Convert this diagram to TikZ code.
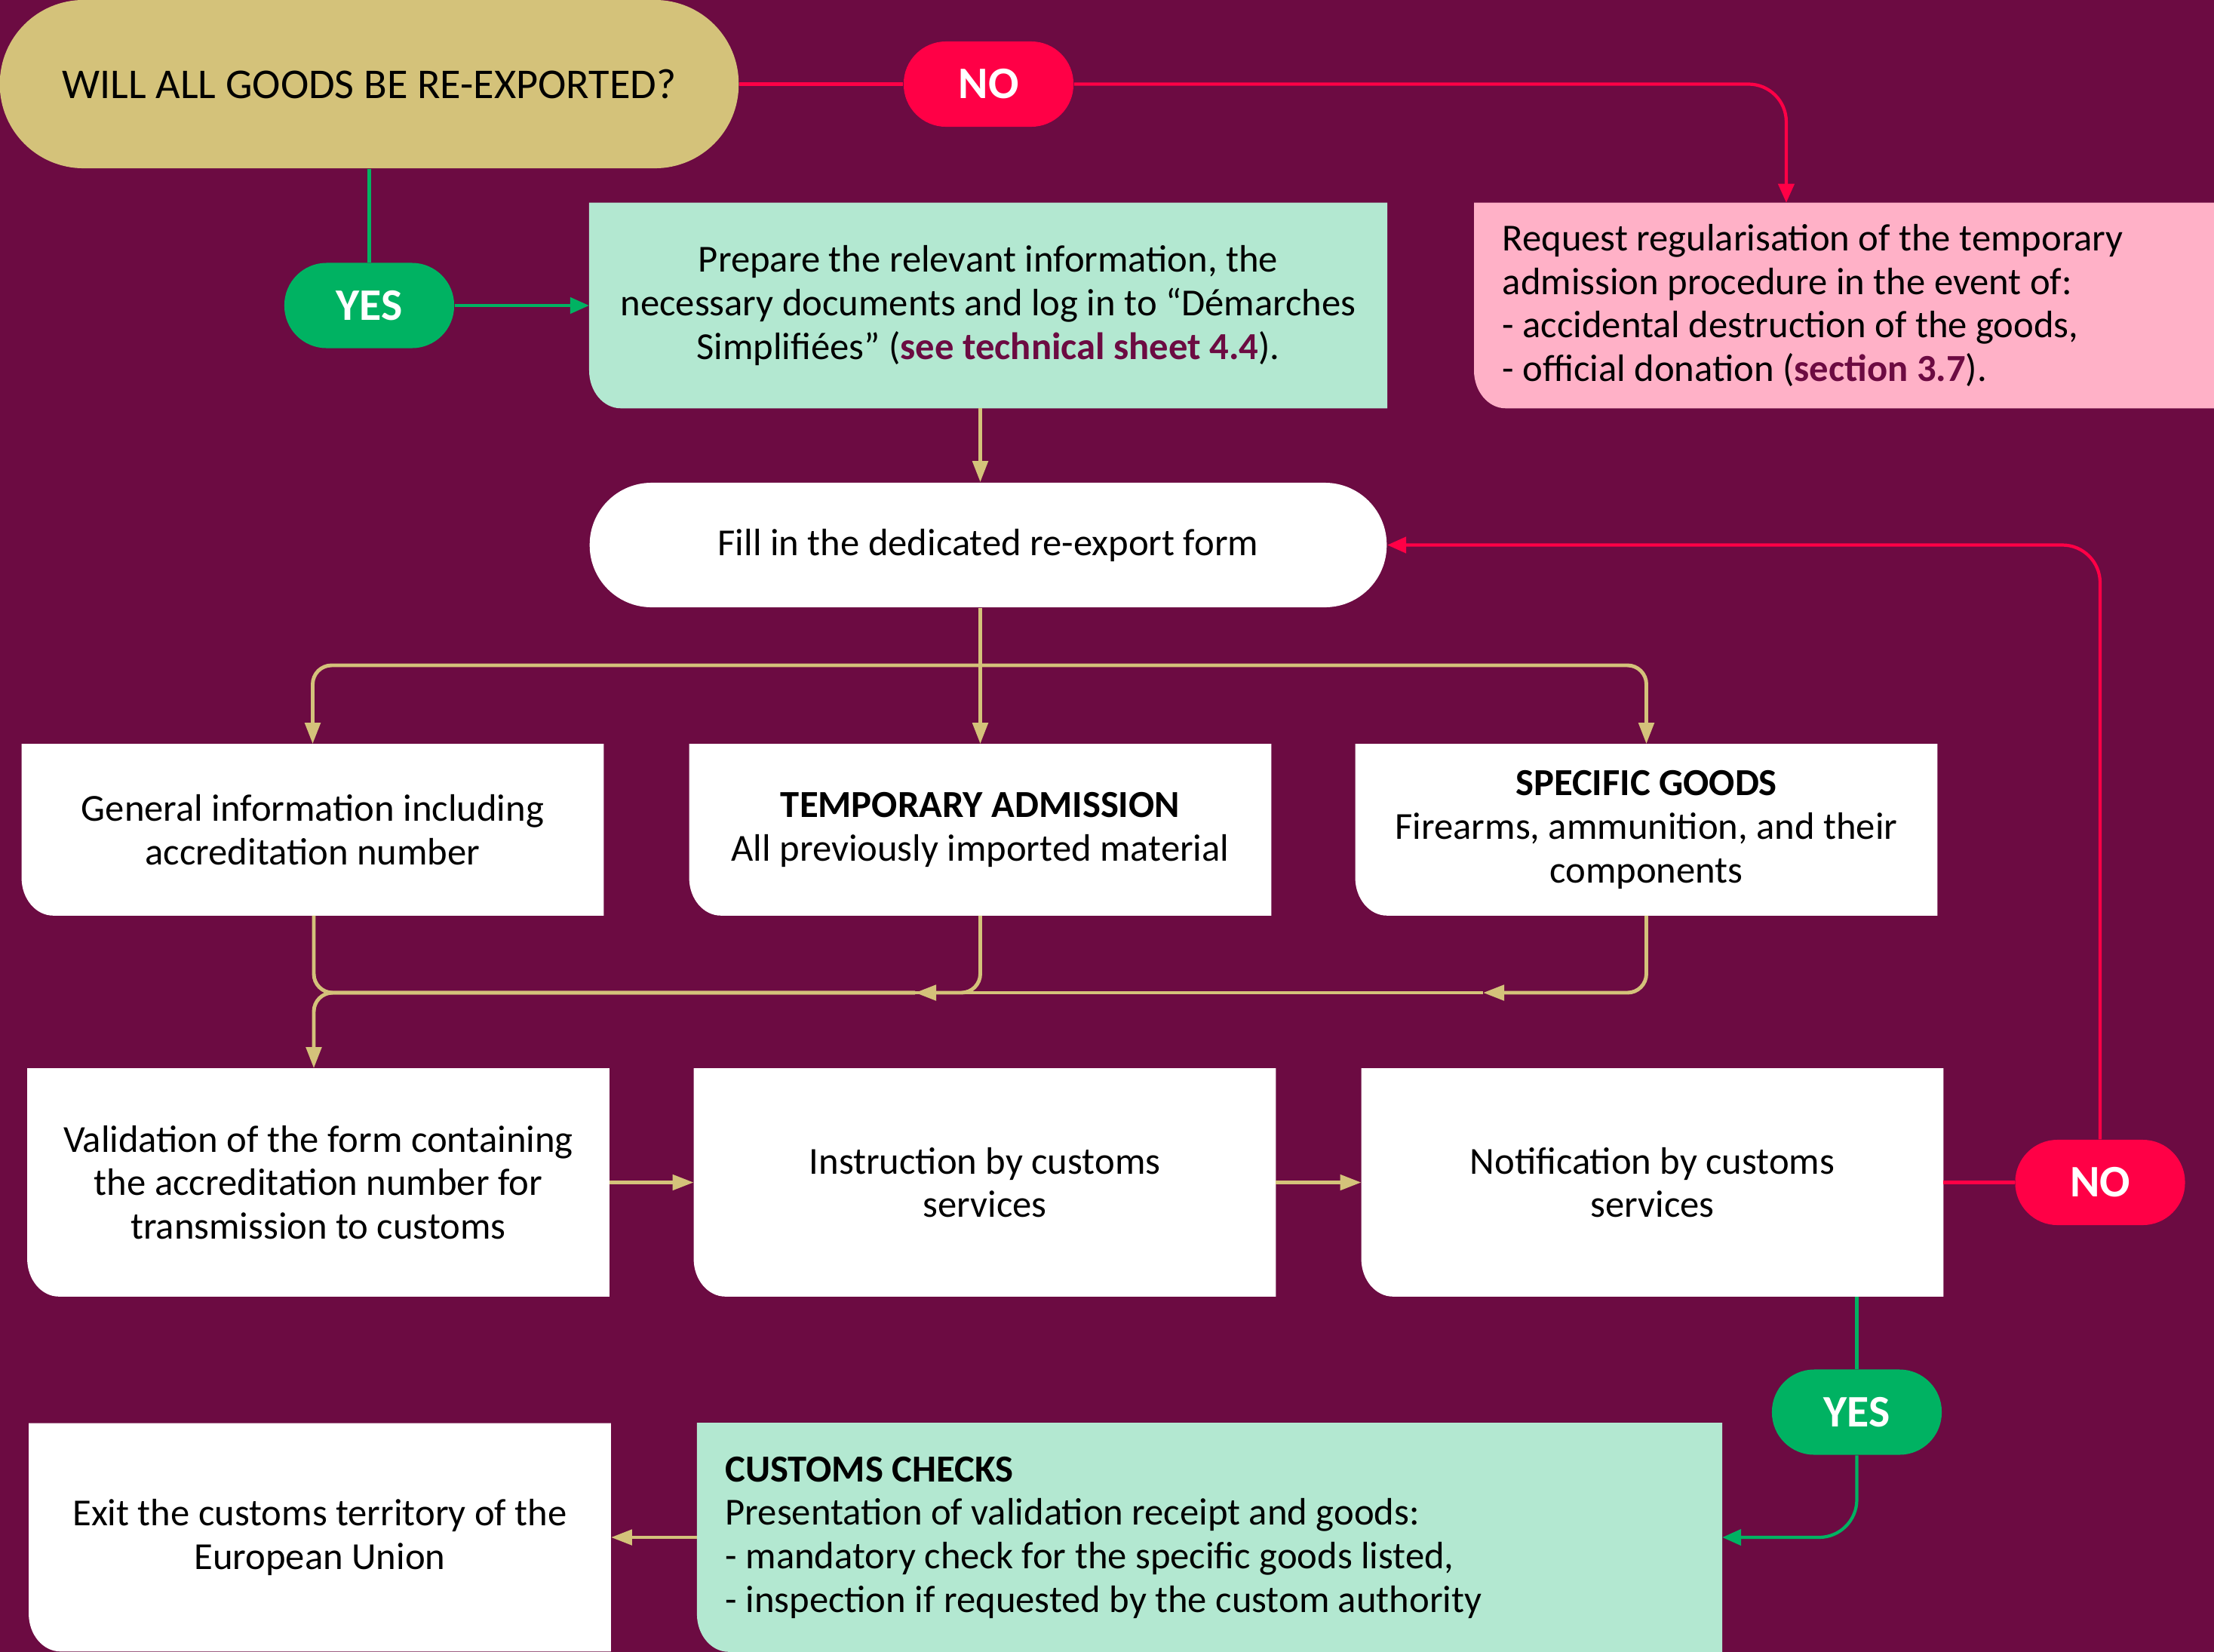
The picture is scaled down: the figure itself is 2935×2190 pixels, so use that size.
\documentclass[tikz,border=0pt]{standalone}
\usepackage{fontspec}
\setmainfont{Carlito}
\usetikzlibrary{arrows.meta,positioning,backgrounds}

\definecolor{wine}{RGB}{108,11,66}
\definecolor{sand}{RGB}{212,194,122}
\definecolor{alarm}{RGB}{255,0,70}
\definecolor{leaf}{RGB}{0,178,98}
\definecolor{mint}{RGB}{179,232,209}
\definecolor{blush}{RGB}{255,177,199}

\begin{document}
\begin{tikzpicture}[x=0.01cm, y=-0.01cm,
    every node/.style={font=\fontsize{14.4}{16.4}\selectfont, inner sep=0pt},
    card/.style={minimum width=7.7cm, minimum height=2.26cm, align=center},
    tallcard/.style={card, minimum height=3.01cm},
    leftcard/.style={align=flush left, inner xsep=0.37cm},
    pill/.style={rounded corners=0.56cm, minimum width=2.25cm, minimum height=1.13cm,
        text=white, font=\fontsize{17}{20}\selectfont\bfseries},
    yespill/.style={pill, fill=leaf},
    nopill/.style={pill, fill=alarm},
    wire/.style={draw=sand, line width=1.4pt, rounded corners=0.25cm},
    flow/.style={wire, -{Triangle[length=0.28cm, width=0.2cm]}},
    noline/.style={draw=alarm, line width=1.2pt, rounded corners=0.5cm},
    noflow/.style={noline, -{Triangle[length=0.25cm, width=0.21cm]}},
    yesline/.style={draw=leaf, line width=1.2pt, rounded corners=0.5cm},
    yesflow/.style={yesline, -{Triangle[length=0.25cm, width=0.21cm]}}]

\useasboundingbox (0,0) rectangle (2935,2190);

% question and first answers
\node[fill=sand, rounded corners=1.11cm, minimum width=9.79cm, minimum height=2.23cm,
    font=\fontsize{16}{19}\selectfont]
    (ask) at (489.5,111.5) {WILL ALL GOODS BE RE-EXPORTED?};
\node[nopill] (no1) at (1310.5,111.5) {NO};
\node[yespill] (yes1) at (489.5,405) {YES};
\node[card, minimum width=10.56cm, minimum height=2.71cm] (prep) at (1310,405)
    {Prepare the relevant information, the\\necessary documents and log in to “Démarches\\Simplifiées” ({\bfseries\color{wine}see technical sheet 4.4}).};
\node[leftcard, text width=9.05cm, minimum height=2.71cm] (req) at (2444.5,405)
    {Request regularisation of the temporary\\admission procedure in the event of:\\- accidental destruction of the goods,\\- official donation ({\bfseries\color{wine}section 3.7}).};
\node[fill=white, rounded corners=0.82cm, minimum width=10.56cm, minimum height=1.65cm]
    (form) at (1310,722.5) {Fill in the dedicated re-export form};

% form contents
\node[card] (gen) at (414.5,1100) {General information including\\accreditation number};
\node[card] (ta) at (1299.5,1100) {\textbf{TEMPORARY ADMISSION}\\All previously imported material};
\node[card] (sg) at (2182.5,1100) {\textbf{SPECIFIC GOODS}\\Firearms, ammunition, and their\\components};

% processing
\node[tallcard] (val) at (422,1567.5) {Validation of the form containing\\the accreditation number for\\transmission to customs};
\node[tallcard] (instr) at (1305.5,1567.5) {Instruction by customs\\services};
\node[tallcard] (notif) at (2190.5,1567.5) {Notification by customs\\services};
\node[nopill] (no2) at (2784,1567.5) {NO};
\node[yespill] (yes2) at (2461.5,1872) {YES};

% last step
\node[tallcard] (exitb) at (424,2038) {Exit the customs territory of the\\European Union};
\node[leftcard, text width=12.83cm, minimum height=3.02cm] (chk) at (1603.5,2038)
    {\textbf{CUSTOMS CHECKS}\\Presentation of validation receipt and goods:\\- mandatory check for the specific goods listed,\\- inspection if requested by the custom authority};

\begin{scope}[on background layer]
  \fill[wine] (0,0) rectangle (2935,2190);
  \foreach \n/\c in {prep/mint, req/blush, gen/white, ta/white, sg/white, val/white,
      instr/white, notif/white, exitb/white, chk/mint}
    \fill[\c] (\n.north west) -- (\n.north east) -- (\n.south east)
      -- ([xshift=0.42cm]\n.south west)
      arc[start angle=270, end angle=180, x radius=0.42cm, y radius=0.5cm] -- cycle;
\end{scope}

\coordinate (fork) at (1299.5,882);
\coordinate (merge) at (416,1316);
\coordinate (tamid) at (1213,1316);
\coordinate (sgmid) at (1966,1316);

% connectors
\draw[noline] (ask.east) -- (no1.west);
\draw[noflow] (no1.east) -| ([xshift=-0.765cm]req.north);
\draw[yesline] (ask.south) -- (yes1.north);
\draw[yesflow] (yes1.east) -- (prep.west);
\draw[flow] (prep.south -| ta.north) -- (form.north -| ta.north);
\draw[flow] (form.south -| ta.north) -- (ta.north);
\draw[flow] (fork) -| (gen.north);
\draw[flow] (fork) -| (sg.north);

\draw[wire] (gen.south -| merge) |- (tamid);
\draw[wire] (sgmid) -- (tamid);
\draw[flow] (ta.south) |- (tamid);
\draw[flow] (sg.south) |- (sgmid);
\draw[flow] (tamid) -| (val.north -| merge);

\draw[flow] (val.east) -- (instr.west);
\draw[flow] (instr.east) -- (notif.west);
\draw[noline] (notif.east) -- (no2.west);
\draw[noflow] (no2.north) |- (form.east);
\draw[yesline] (notif.south -| yes2.north) -- (yes2.north);
\draw[yesflow] (yes2.south) |- (chk.east);
\draw[flow] (chk.west) -- (exitb.east);

\end{tikzpicture}
\end{document}
